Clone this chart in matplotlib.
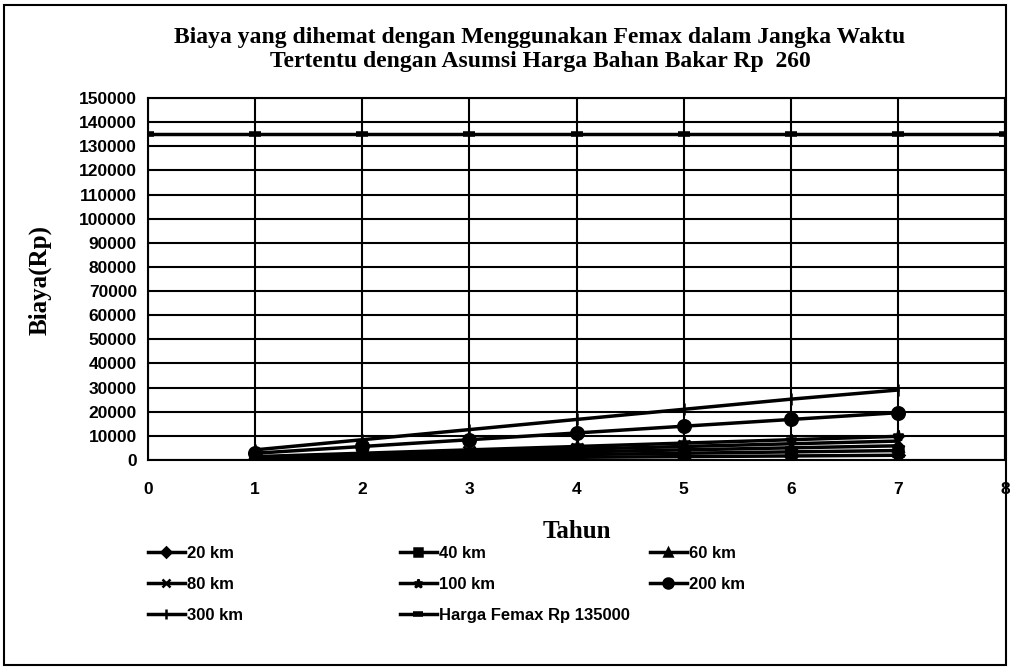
import numpy as np
import matplotlib
matplotlib.use("Agg")
import matplotlib.pyplot as plt
from matplotlib.patches import Rectangle

# data
tahun = [1, 2, 3, 4, 5, 6, 7]
biaya_20 = [280, 560, 840, 1120, 1400, 1680, 1960]
biaya_40 = [560, 1120, 1680, 2240, 2800, 3360, 3920]
biaya_60 = [840, 1680, 2520, 3360, 4200, 5040, 5880]
biaya_80 = [1120, 2240, 3360, 4480, 5600, 6720, 7840]
biaya_100 = [1400, 2800, 4200, 5600, 7000, 8400, 9800]
biaya_200 = [2800, 5600, 8400, 11200, 14000, 16800, 19600]
biaya_300 = [4200, 8400, 12600, 16800, 21000, 25200, 29000]
tahun_femax = [0, 1, 2, 3, 4, 5, 6, 7, 8]
harga_femax = [135000] * 9

labels = ["20 km", "40 km", "60 km", "80 km", "100 km", "200 km", "300 km",
          "Harga Femax Rp 135000"]
markers = ["D", "s", "^", "x", "*", "o", "|", "_"]
msizes = [6, 7, 7, 8, 8, 9, 9, 9]

fig = plt.figure(figsize=(10.1, 6.68), dpi=100)
fig.add_artist(Rectangle((0.004, 0.004), 0.992, 0.988, transform=fig.transFigure,
                         fill=False, edgecolor="black", linewidth=1.5))
ax = fig.add_axes([148 / 1010, 1 - 460 / 668, (1005 - 148) / 1010, (460 - 98) / 668])

series = [biaya_20, biaya_40, biaya_60, biaya_80, biaya_100, biaya_200, biaya_300]
handles = []
for i, s in enumerate(series):
    h, = ax.plot(tahun, s, color="black", linewidth=2.5, marker=markers[i],
                 markersize=msizes[i], markeredgewidth=1.8, label=labels[i])
    handles.append(h)
h, = ax.plot(tahun_femax, harga_femax, color="black", linewidth=2.5, marker="_",
             markersize=9, markeredgewidth=4, label=labels[7])
handles.append(h)

ax.set_xlim(0, 8)
ax.set_ylim(0, 150000)
ax.set_xticks(range(0, 9))
ax.set_yticks(np.arange(0, 150001, 10000))
ax.grid(True, color="black", linewidth=1.5)
ax.set_axisbelow(True)
for sp in ax.spines.values():
    sp.set_linewidth(1.5)
ax.tick_params(axis="y", length=0, pad=8)
ax.tick_params(axis="x", length=0, pad=16)
for lab in ax.get_xticklabels() + ax.get_yticklabels():
    lab.set_fontfamily("Liberation Sans")
    lab.set_fontweight("bold")
    lab.set_fontsize(12.5)

fig.text(540 / 1010, 1 - 38 / 668,
         "Biaya yang dihemat dengan Menggunakan Femax dalam Jangka Waktu",
         ha="center", va="center", fontfamily="Liberation Serif",
         fontweight="bold", fontsize=17)
fig.text(540 / 1010, 1 - 61 / 668,
         "Tertentu dengan Asumsi Harga Bahan Bakar Rp  260",
         ha="center", va="center", fontfamily="Liberation Serif",
         fontweight="bold", fontsize=17)
fig.text(577 / 1010, 1 - 531 / 668, "Tahun", ha="center", va="center",
         fontfamily="Liberation Serif", fontweight="bold", fontsize=18)
fig.text(40 / 1010, 1 - 280 / 668, "Biaya(Rp)", ha="center", va="center",
         rotation=90, fontfamily="Liberation Serif", fontweight="bold", fontsize=18)

# legend in three fixed columns, filled row by row
columns = [[0, 3, 6], [1, 4, 7], [2, 5]]
col_x = [133, 385, 635]
for idx, cx in zip(columns, col_x):
    leg = fig.legend([handles[i] for i in idx], [labels[i] for i in idx],
                     loc="upper left", bbox_to_anchor=(cx / 1010, 1 - 531 / 668),
                     frameon=False, handlelength=2.2, handletextpad=0.15,
                     labelspacing=0.95, markerscale=0.8,
                     prop={"family": "Liberation Sans", "weight": "bold", "size": 12})

fig.savefig("out.png", dpi=100)
